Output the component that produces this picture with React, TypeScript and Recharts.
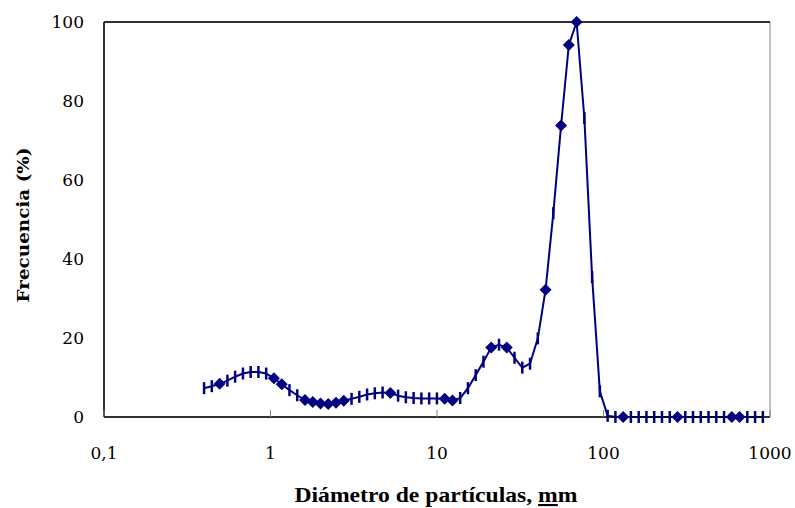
import React from 'react';
import { ComposedChart, Line, Scatter, XAxis, YAxis, ReferenceArea, ReferenceLine } from 'recharts';

// particle size classes (mm) and frequency (%) of the fitted curve
const sizeMm = [
  0.399, 0.444, 0.495, 0.551, 0.613, 0.683, 0.76, 0.846, 0.942, 1.049,
  1.168, 1.3, 1.447, 1.611, 1.794, 1.997, 2.223, 2.475, 2.755, 3.068,
  3.415, 3.802, 4.232, 4.712, 5.246, 5.84, 6.501, 7.237, 8.058, 8.971,
  9.99, 11.12, 12.38, 13.78, 15.34, 17.08, 19.01, 21.17, 23.57, 26.24,
  29.21, 32.52, 36.21, 40.31, 44.87, 49.96, 55.62, 61.92, 68.94, 76.74,
  85.44, 95.11, 105.9, 117.9, 131.2, 146.1, 162.7, 181.1, 201.6, 224.5,
  249.9, 278.2, 309.7, 344.8, 383.9, 427.3, 475.8, 529.7, 589.7, 656.5,
  730.9, 813.7, 905.9,
];
const freqPct = [
  7.3, 7.8, 8.4, 9.2, 10.2, 11.0, 11.4, 11.4, 11.0, 9.8,
  8.3, 6.8, 5.5, 4.3, 3.8, 3.4, 3.3, 3.6, 4.1, 4.6,
  5.1, 5.7, 6.0, 6.2, 6.1, 5.4, 5.0, 4.8, 4.7, 4.7,
  4.7, 4.6, 4.2, 4.8, 7.3, 10.6, 14.0, 17.6, 18.3, 17.6,
  15.0, 12.5, 13.5, 19.9, 32.2, 51.6, 73.8, 94.2, 100, 75.7,
  35.4, 6.5, 0.3, 0, 0, 0, 0, 0, 0, 0,
  0, 0, 0, 0, 0, 0, 0, 0, 0, 0,
  0, 0, 0,
];

// measured points (diamonds)
const markedMm = [
  0.495, 1.049, 1.168, 1.611, 1.794, 1.997, 2.223, 2.475, 2.755, 5.246,
  11.12, 12.38, 21.17, 26.24, 44.87, 55.62, 61.92, 68.94, 131.2, 278.2,
  589.7, 656.5,
];
const markedPct = [
  8.4, 9.8, 8.3, 4.3, 3.8, 3.4, 3.3, 3.6, 4.1, 6.1,
  4.6, 4.2, 17.6, 17.6, 32.2, 73.8, 94.2, 100, 0, 0,
  0, 0,
];

const xTicks = [0.1, 1, 10, 100, 1000];
const yTicks = [0, 20, 40, 60, 80, 100];

const NAVY = '#000080';

const curve = sizeMm.map((x, i) => ({ x, y: freqPct[i] }));
const marked = markedMm.map((x, i) => ({ x, y: markedPct[i] }));
const markedSet = new Set(markedMm);

const DashDot = (props: any) => {
  const { cx, cy, payload, index } = props;
  if (cx == null || cy == null || markedSet.has(payload.x)) return <g key={`d${index}`} />;
  return (
    <line key={`d${index}`} x1={cx} x2={cx} y1={cy - 6} y2={cy + 6} stroke={NAVY} strokeWidth={2.5} />
  );
};

const Diamond = (props: any) => {
  const { cx, cy } = props;
  const r = 6;
  return (
    <polygon
      points={`${cx},${cy - r} ${cx + r},${cy} ${cx},${cy + r} ${cx - r},${cy}`}
      fill={NAVY}
    />
  );
};

const tickStyle = { fill: '#000', fontSize: 17, fontFamily: 'DejaVu Serif' };

// x tick: label below the axis plus a short gray mark pointing into the plot
const XTick = (props: any) => {
  const { x, y, payload } = props;
  const axisY = y - 30;
  return (
    <g>
      <line x1={x} x2={x} y1={axisY} y2={axisY - 7} stroke="#808080" strokeWidth={1} />
      <text x={x} y={y} dy="0.71em" textAnchor="middle" {...tickStyle}>
        {String(payload.value).replace('.', ',')}
      </text>
    </g>
  );
};

export default function App() {
  return (
    <div style={{ position: 'absolute', left: 0, top: 0, width: 795, height: 508, background: '#fff' }}>
      <ComposedChart width={795} height={508} margin={{ top: 22, right: 25, bottom: 31, left: 34 }}>
        <ReferenceArea x1={0.1} x2={1000} y1={0} y2={100} fill="none" stroke="#808080" strokeWidth={1} />
        <ReferenceLine y={100} stroke="#000" strokeWidth={1.5} />
        <XAxis
          dataKey="x"
          type="number"
          scale="log"
          domain={[0.1, 1000]}
          ticks={xTicks}
          allowDataOverflow
          height={60}
          tickSize={0}
          tickMargin={30}
          tickLine={false}
          axisLine={{ stroke: '#000', strokeWidth: 1.5 }}
          tick={<XTick />}
          interval={0}
        />
        <YAxis
          dataKey="y"
          type="number"
          domain={[0, 100]}
          ticks={yTicks}
          width={70}
          tickSize={0}
          tickMargin={20}
          tickLine={false}
          axisLine={{ stroke: '#000', strokeWidth: 1.5 }}
          tick={tickStyle}
          interval={0}
        />
        <Line
          data={curve}
          dataKey="y"
          type="linear"
          stroke={NAVY}
          strokeWidth={2}
          dot={DashDot}
          activeDot={false}
          isAnimationActive={false}
        />
        <Scatter data={marked} dataKey="y" shape={Diamond} isAnimationActive={false} />
      </ComposedChart>
      <svg
        width={795}
        height={508}
        style={{ position: 'absolute', left: 0, top: 0, pointerEvents: 'none' }}
      >
        <text
          x={436}
          y={502}
          textAnchor="middle"
          fontFamily="Liberation Serif"
          fontWeight="bold"
          fontSize={21}
          textLength={283}
          lengthAdjust="spacingAndGlyphs"
        >
          Diámetro de partículas, <tspan textDecoration="underline">m</tspan>m
        </text>
        <text
          transform="translate(29,225) rotate(-90)"
          textAnchor="middle"
          fontFamily="DejaVu Serif"
          fontWeight="bold"
          fontSize={16}
          textLength={155}
          lengthAdjust="spacingAndGlyphs"
        >
          Frecuencia (%)
        </text>
      </svg>
    </div>
  );
}
